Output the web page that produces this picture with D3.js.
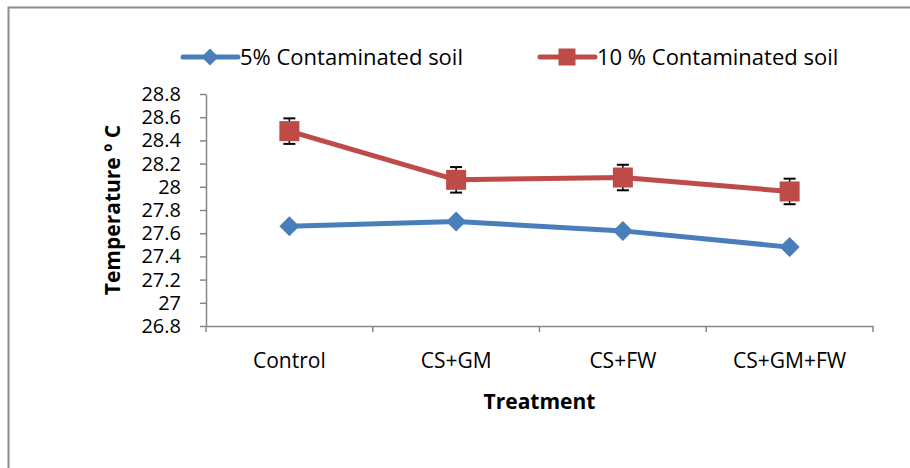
<!DOCTYPE html>
<html>
<head>
<meta charset="utf-8">
<script src="https://cdn.jsdelivr.net/npm/d3@7"></script>
<style>
  body { margin: 0; background: #fff; }
  text { font-family: "Open Sans", Lato, sans-serif; fill: #000; }
</style>
</head>
<body>
<div id="chart"></div>
<script>
// data
const categories = ["Control", "CS+GM", "CS+FW", "CS+GM+FW"];
const seriesNames = ["5% Contaminated soil", "10 % Contaminated soil"];
const fivePct = [27.66, 27.70, 27.62, 27.48];
const fivePctErr = [0.02, 0.02, 0.02, 0.02];
const tenPct = [28.48, 28.06, 28.08, 27.96];
const tenPctErr = [0.11, 0.11, 0.11, 0.11];
const yTicks = [26.8, 27, 27.2, 27.4, 27.6, 27.8, 28, 28.2, 28.4, 28.6, 28.8];

const W = 910, H = 468;
const margin = {top: 94, left: 206, right: 37, bottom: 142};
const width = W - margin.left - margin.right,
      height = H - margin.top - margin.bottom;

const svg = d3.select("#chart").append("svg")
    .attr("width", W).attr("height", H);

// outer frame (right and bottom edges fall outside the picture)
svg.append("path")
    .attr("d", "M8.5," + H + "V7.5H" + W)
    .attr("fill", "none").attr("stroke", "#8c8c8c").attr("stroke-width", 2);

const g = svg.append("g")
    .attr("transform", "translate(" + margin.left + "," + margin.top + ")");

const x = d3.scaleBand().domain(categories).range([0, width]);
const y = d3.scaleLinear().domain([26.8, 28.8]).range([height, 0]);

// y axis
const yAxis = g.append("g")
    .call(d3.axisLeft(y).tickValues(yTicks).tickFormat(d3.format("")).tickSize(6).tickSizeOuter(0));
yAxis.select(".domain").attr("stroke", "#868686").attr("stroke-width", 1.5);
yAxis.selectAll(".tick line").attr("stroke", "#868686").attr("stroke-width", 1.5);
yAxis.selectAll(".tick text").attr("x", -25).attr("font-size", 20)
    .style("font-family", "'Open Sans', sans-serif");

// x axis with ticks between categories
const xAxis = g.append("g").attr("transform", "translate(0," + height + ")")
    .call(d3.axisBottom(x).tickSize(0).tickSizeOuter(0));
xAxis.select(".domain").attr("stroke", "#868686").attr("stroke-width", 1.5);
xAxis.selectAll(".tick text").attr("dy", "0.35em").attr("y", 35).attr("font-size", 21)
    .style("font-family", "'Open Sans', sans-serif");
xAxis.selectAll(".sep")
    .data(d3.range(categories.length + 1))
    .enter().append("line")
    .attr("x1", i => i * x.bandwidth()).attr("x2", i => i * x.bandwidth())
    .attr("y1", 0).attr("y2", 6)
    .attr("stroke", "#868686").attr("stroke-width", 1.5);

// axis titles
g.append("text")
    .attr("transform", "translate(-93," + (height / 2) + ") rotate(-90)")
    .attr("text-anchor", "middle").attr("dy", "0.35em")
    .attr("font-size", 21).attr("font-weight", "bold")
    .text("Temperature \u00BA C");
g.append("text")
    .attr("x", width / 2).attr("y", height + 76).attr("dy", "0.35em")
    .attr("text-anchor", "middle")
    .attr("font-size", 21).attr("font-weight", "bold")
    .text("Treatment");

const cx = d => x(d) + x.bandwidth() / 2;
const line = d3.line().x(d => cx(d.c)).y(d => y(d.v));

const series = [
    {name: seriesNames[0], vals: fivePct, err: fivePctErr, color: "#4a7ebb", shape: "diamond"},
    {name: seriesNames[1], vals: tenPct, err: tenPctErr, color: "#be4b48", shape: "square"}
];

function marker(sel, shape, color) {
    if (shape === "square") {
        sel.append("rect").attr("x", -10).attr("y", -10).attr("width", 20).attr("height", 20)
            .attr("fill", color);
    } else {
        sel.append("path").attr("d", "M0,-10L10,0L0,10L-10,0Z").attr("fill", color);
    }
}

series.forEach(s => {
    const pts = categories.map((c, i) => ({c: c, v: s.vals[i], e: s.err[i]}));
    g.append("path").datum(pts)
        .attr("d", line)
        .attr("fill", "none").attr("stroke", s.color).attr("stroke-width", 5)
        .attr("stroke-linejoin", "round");

    // error bars
    const eb = g.selectAll(null).data(pts).enter().append("g");
    eb.append("line")
        .attr("x1", d => cx(d.c)).attr("x2", d => cx(d.c))
        .attr("y1", d => y(d.v + d.e)).attr("y2", d => y(d.v - d.e))
        .attr("stroke", "#000").attr("stroke-width", 1.5);
    [1, -1].forEach(sgn => {
        eb.append("line")
            .attr("x1", d => cx(d.c) - 6).attr("x2", d => cx(d.c) + 6)
            .attr("y1", d => y(d.v + sgn * d.e)).attr("y2", d => y(d.v + sgn * d.e))
            .attr("stroke", "#000").attr("stroke-width", 2);
    });

    g.selectAll(null).data(pts).enter().append("g")
        .attr("transform", d => "translate(" + cx(d.c) + "," + y(d.v) + ")")
        .each(function() { marker(d3.select(this), s.shape, s.color); });
});

// legend
const legendX = [183, 540];
series.forEach((s, i) => {
    const lg = svg.append("g").attr("transform", "translate(" + legendX[i] + ",57)");
    lg.append("line").attr("x1", 0).attr("x2", 55).attr("y1", 0).attr("y2", 0)
        .attr("stroke", s.color).attr("stroke-width", 5).attr("stroke-linecap", "round");
    const m = lg.append("g").attr("transform", "translate(27,0) scale(0.85)");
    marker(m, s.shape, s.color);
    lg.append("text").attr("x", 57).attr("y", 0).attr("dy", "0.35em")
        .attr("font-size", 22).text(s.name);
});
</script>
</body>
</html>
